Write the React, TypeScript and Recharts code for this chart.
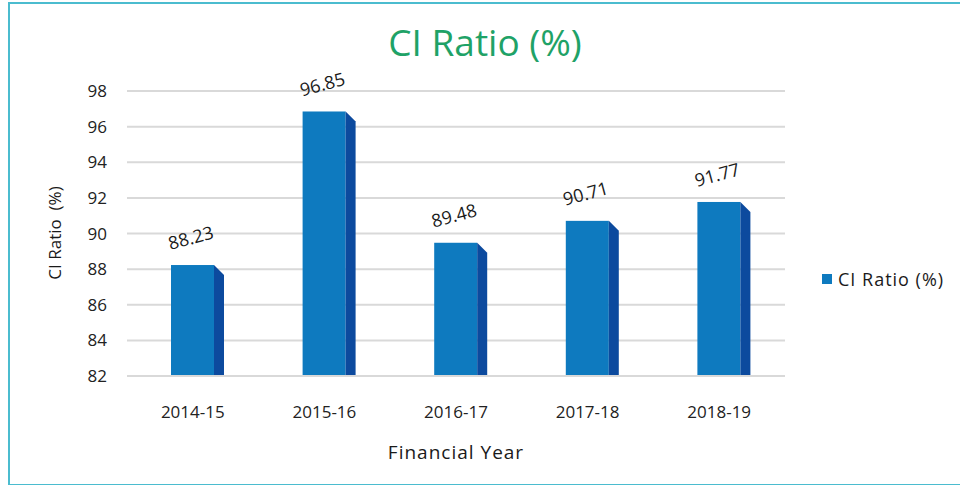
import { BarChart, Bar, XAxis, YAxis, CartesianGrid, LabelList } from 'recharts';

// Financial years and CI ratio values
const years = ['2014-15', '2015-16', '2016-17', '2017-18', '2018-19'];
const ciRatio = [88.23, 96.85, 89.48, 90.71, 91.77];
const yTicks = [82, 84, 86, 88, 90, 92, 94, 96, 98];

const chartData = years.map((year, i) => ({ year, ratio: ciRatio[i] }));

const FRONT = '#0e7abf';
const SIDE = '#0c4a9e';
const DEPTH = 10;

function Bar3D(props: any) {
    const { x, y, width, height } = props;
    if (height <= 0) return null;
    return (
        <g>
            <rect x={x} y={y} width={width} height={height} fill={FRONT} />
            <polygon
                points={`${x + width},${y} ${x + width + DEPTH},${y + DEPTH} ${x + width + DEPTH},${y + height} ${x + width},${y + height}`}
                fill={SIDE}
            />
        </g>
    );
}

function ValueLabel(props: any) {
    const { x, y, width, value } = props;
    const cx = x + width / 2;
    const cy = y - 21;
    return (
        <text
            x={cx}
            y={cy}
            textAnchor="middle"
            fontSize={18}
            fill="#1a1a1a"
            fontFamily="'Open Sans', sans-serif"
            transform={`rotate(-15 ${cx} ${cy})`}
        >
            {value.toFixed(2)}
        </text>
    );
}

export default function App() {
    const font = "'Open Sans', sans-serif";
    return (
        <div style={{ position: 'absolute', left: 0, top: 0, width: 960, height: 485, background: '#fff', overflow: 'hidden', fontFamily: font }}>
            {/* frame */}
            <div style={{ position: 'absolute', left: 8, top: 2, width: 970, height: 480, border: '2px solid #4bbccf', borderRight: 'none' }} />

            {/* title */}
            <div style={{ position: 'absolute', left: 0, top: 18, width: 970, textAlign: 'center', fontSize: 37, lineHeight: '48px', color: '#1fa267' }}>
                CI Ratio (%)
            </div>

            <div style={{ position: 'absolute', left: 0, top: 0 }}>
                <BarChart width={960} height={485} data={chartData} margin={{ top: 91, right: 175, bottom: 79, left: 67 }} barCategoryGap={0}>
                    <CartesianGrid horizontal vertical={false} stroke="#d9d9d9" strokeWidth={2} />
                    <XAxis
                        dataKey="year"
                        axisLine={{ stroke: '#d9d9d9', strokeWidth: 2 }}
                        tickLine={false}
                        tickMargin={24}
                        height={30}
                        tick={{ fontSize: 17, fill: '#222', fontFamily: font }}
                    />
                    <YAxis
                        domain={[82, 98]}
                        ticks={yTicks}
                        axisLine={false}
                        tickLine={false}
                        width={60}
                        tickMargin={14}
                        tick={{ fontSize: 17, fill: '#222', fontFamily: font }}
                    />
                    <Bar dataKey="ratio" barSize={43} shape={<Bar3D />} isAnimationActive={false}>
                        <LabelList dataKey="ratio" content={<ValueLabel />} />
                    </Bar>
                </BarChart>
            </div>

            {/* axis titles */}
            <div style={{ position: 'absolute', left: 54, top: 233, transform: 'translate(-50%, -50%) rotate(-90deg)', fontSize: 17, color: '#1a1a1a', whiteSpace: 'nowrap' }}>
                CI Ratio&nbsp; (%)
            </div>
            <div style={{ position: 'absolute', left: 306, top: 439, width: 300, textAlign: 'center', fontSize: 19, letterSpacing: 1, color: '#1a1a1a' }}>
                Financial Year
            </div>

            {/* legend */}
            <div style={{ position: 'absolute', left: 822, top: 267, display: 'flex', alignItems: 'center', fontSize: 18, letterSpacing: 1, color: '#1a1a1a' }}>
                <span style={{ display: 'inline-block', width: 10, height: 10, background: FRONT, marginRight: 6 }} />
                CI Ratio (%)
            </div>
        </div>
    );
}
